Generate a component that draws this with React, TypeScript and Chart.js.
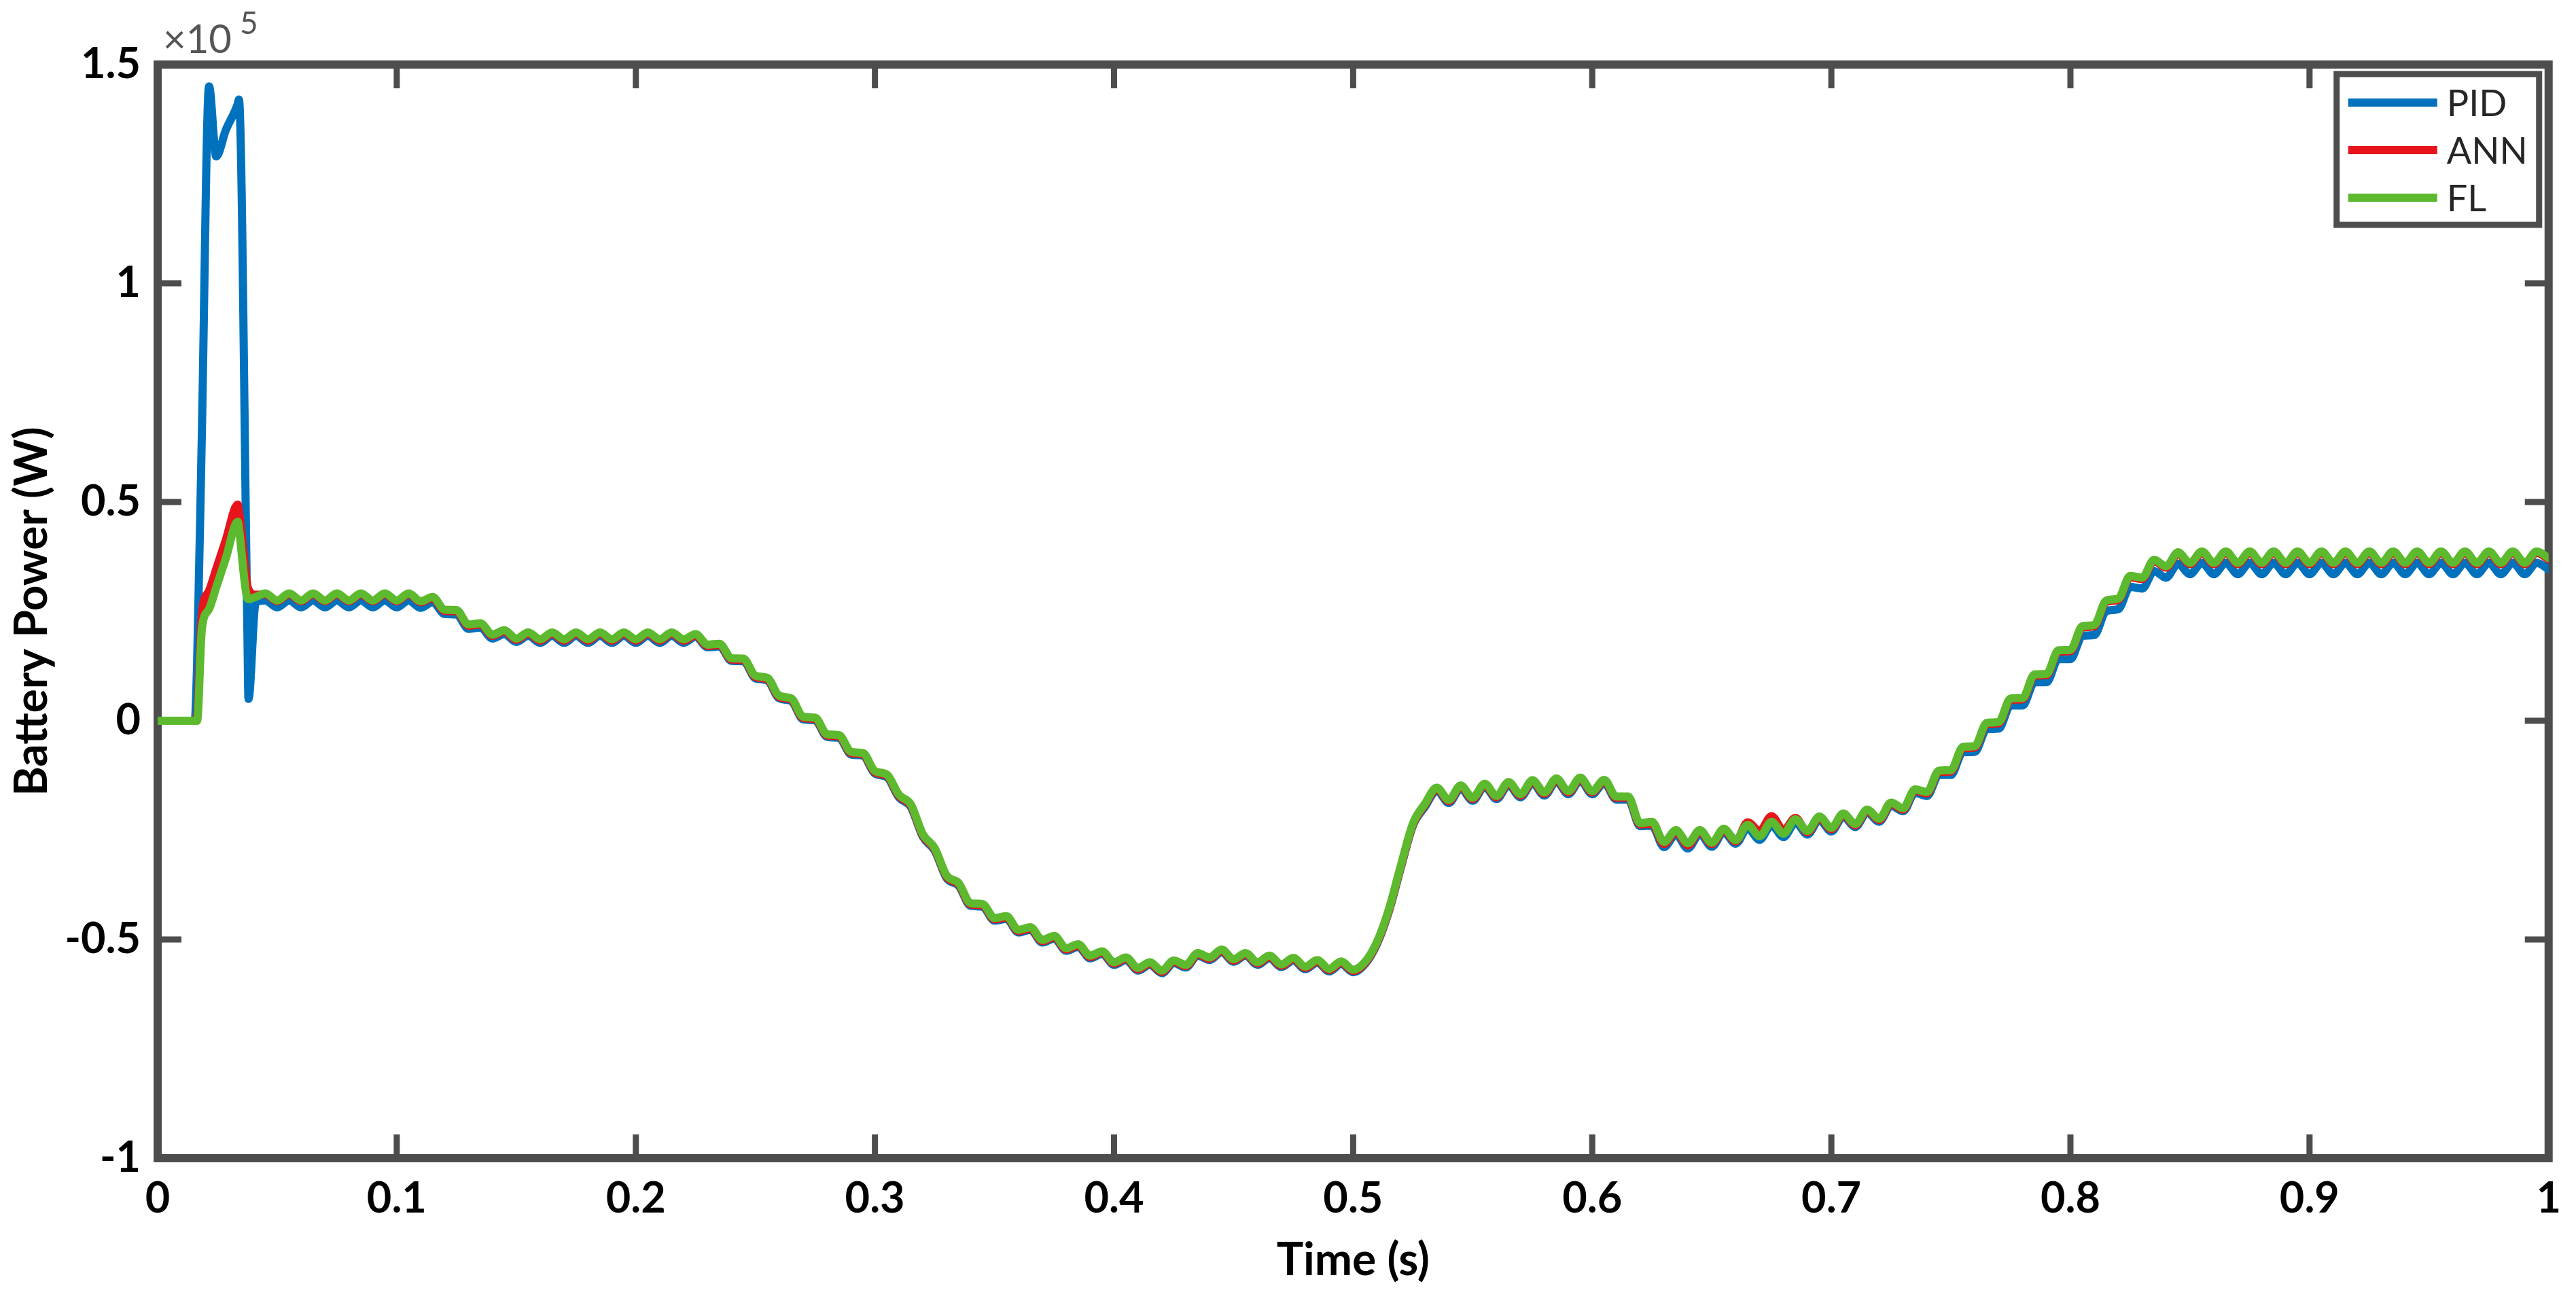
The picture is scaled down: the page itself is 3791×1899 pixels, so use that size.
import React, { useEffect, useRef } from "react";
import { Chart, registerables } from "chart.js";

Chart.register(...registerables);

// ---- data (values in units of 10^5 W) ----
const TIME = [
  0, 0.01, 0.0155, 0.0165, 0.0185, 0.0215, 0.0245, 0.0285, 0.0335, 0.034, 0.0375, 0.038, 0.041,
  0.045, 0.05, 0.055, 0.06, 0.065, 0.07, 0.075, 0.08, 0.085, 0.09,
  0.095, 0.1, 0.105, 0.11, 0.115, 0.12, 0.125, 0.13, 0.135, 0.14,
  0.145, 0.15, 0.155, 0.16, 0.165, 0.17, 0.175, 0.18, 0.185, 0.19,
  0.195, 0.2, 0.205, 0.21, 0.215, 0.22, 0.225, 0.23, 0.235, 0.24,
  0.245, 0.25, 0.255, 0.26, 0.265, 0.27, 0.275, 0.28, 0.285, 0.29,
  0.295, 0.3, 0.305, 0.31, 0.315, 0.32, 0.325, 0.33, 0.335, 0.34,
  0.345, 0.35, 0.355, 0.36, 0.365, 0.37, 0.375, 0.38, 0.385, 0.39,
  0.395, 0.4, 0.405, 0.41, 0.415, 0.42, 0.425, 0.43, 0.435, 0.44,
  0.445, 0.45, 0.455, 0.46, 0.465, 0.47, 0.475, 0.48, 0.485, 0.49,
  0.495, 0.5, 0.505, 0.51, 0.515, 0.52, 0.525, 0.53, 0.535, 0.54,
  0.545, 0.55, 0.555, 0.56, 0.565, 0.57, 0.575, 0.58, 0.585, 0.59,
  0.595, 0.6, 0.605, 0.61, 0.615, 0.62, 0.625, 0.63, 0.635, 0.64,
  0.645, 0.65, 0.655, 0.66, 0.665, 0.67, 0.675, 0.68, 0.685, 0.69,
  0.695, 0.7, 0.705, 0.71, 0.715, 0.72, 0.725, 0.73, 0.735, 0.74,
  0.745, 0.75, 0.755, 0.76, 0.765, 0.77, 0.775, 0.78, 0.785, 0.79,
  0.795, 0.8, 0.805, 0.81, 0.815, 0.82, 0.825, 0.83, 0.835, 0.84,
  0.845, 0.85, 0.855, 0.86, 0.865, 0.87, 0.875, 0.88, 0.885, 0.89,
  0.895, 0.9, 0.905, 0.91, 0.915, 0.92, 0.925, 0.93, 0.935, 0.94,
  0.945, 0.95, 0.955, 0.96, 0.965, 0.97, 0.975, 0.98, 0.985, 0.99,
  0.995, 1,
];

const PID = [
  0, 0, 0, 0.13, 0.66, 1.45, 1.29, 1.35, 1.41, 1.42, 0.22, 0.05, 0.27,
  0.275, 0.259, 0.275, 0.259, 0.275, 0.259, 0.275, 0.259, 0.275, 0.259,
  0.275, 0.259, 0.275, 0.258, 0.271, 0.244, 0.243, 0.21, 0.213, 0.188,
  0.198, 0.18, 0.194, 0.178, 0.194, 0.178, 0.194, 0.178, 0.194, 0.178,
  0.194, 0.178, 0.194, 0.178, 0.194, 0.178, 0.192, 0.168, 0.17, 0.137,
  0.136, 0.097, 0.092, 0.051, 0.045, 0.003, 0.001, -0.037, -0.039, -0.077,
  -0.08, -0.121, -0.129, -0.175, -0.197, -0.265, -0.297, -0.36, -0.377, -0.423,
  -0.425, -0.457, -0.453, -0.484, -0.478, -0.507, -0.498, -0.526, -0.517, -0.543,
  -0.533, -0.558, -0.547, -0.571, -0.558, -0.577, -0.554, -0.564, -0.537, -0.547,
  -0.529, -0.551, -0.537, -0.558, -0.543, -0.563, -0.548, -0.568, -0.553, -0.573,
  -0.556, -0.575, -0.556, -0.51, -0.435, -0.335, -0.24, -0.197, -0.16, -0.188,
  -0.155, -0.183, -0.151, -0.179, -0.147, -0.175, -0.143, -0.171, -0.139, -0.168,
  -0.137, -0.168, -0.142, -0.18, -0.18, -0.241, -0.24, -0.289, -0.26, -0.292,
  -0.259, -0.288, -0.255, -0.281, -0.246, -0.272, -0.239, -0.266, -0.233, -0.26,
  -0.227, -0.253, -0.219, -0.243, -0.21, -0.231, -0.194, -0.207, -0.165, -0.172,
  -0.124, -0.124, -0.072, -0.071, -0.019, -0.018, 0.035, 0.035, 0.088, 0.088,
  0.141, 0.141, 0.194, 0.196, 0.251, 0.255, 0.306, 0.302, 0.342, 0.327,
  0.359, 0.335, 0.361, 0.335, 0.361, 0.335, 0.361, 0.335, 0.361, 0.335,
  0.361, 0.335, 0.361, 0.335, 0.361, 0.335, 0.361, 0.335, 0.361, 0.335,
  0.361, 0.335, 0.361, 0.335, 0.361, 0.335, 0.361, 0.335, 0.361, 0.335,
  0.361, 0.346,
];

const ANN = [
  0, 0, 0, 0.01, 0.245, 0.297, 0.347, 0.413, 0.494, 0.48, 0.31, 0.3, 0.288,
  0.289, 0.273, 0.289, 0.273, 0.289, 0.273, 0.289, 0.273, 0.289, 0.273,
  0.289, 0.273, 0.289, 0.271, 0.28, 0.251, 0.25, 0.217, 0.22, 0.194,
  0.204, 0.185, 0.199, 0.183, 0.199, 0.183, 0.199, 0.183, 0.199, 0.183,
  0.199, 0.183, 0.199, 0.183, 0.199, 0.183, 0.195, 0.171, 0.173, 0.14,
  0.139, 0.1, 0.095, 0.054, 0.048, 0.006, 0.004, -0.034, -0.036, -0.074,
  -0.077, -0.118, -0.126, -0.172, -0.194, -0.262, -0.294, -0.357, -0.374, -0.42,
  -0.422, -0.454, -0.45, -0.481, -0.475, -0.504, -0.495, -0.523, -0.514, -0.54,
  -0.53, -0.555, -0.544, -0.568, -0.555, -0.574, -0.551, -0.561, -0.534, -0.544,
  -0.526, -0.548, -0.534, -0.555, -0.54, -0.56, -0.545, -0.565, -0.55, -0.57,
  -0.553, -0.572, -0.554, -0.508, -0.433, -0.333, -0.238, -0.193, -0.156, -0.184,
  -0.151, -0.179, -0.147, -0.175, -0.143, -0.171, -0.139, -0.167, -0.135, -0.164,
  -0.133, -0.164, -0.138, -0.176, -0.176, -0.237, -0.236, -0.282, -0.254, -0.285,
  -0.253, -0.282, -0.25, -0.276, -0.232, -0.252, -0.218, -0.25, -0.222, -0.255,
  -0.222, -0.248, -0.215, -0.239, -0.206, -0.227, -0.19, -0.203, -0.16, -0.166,
  -0.117, -0.116, -0.063, -0.061, -0.008, -0.006, 0.048, 0.049, 0.103, 0.104,
  0.158, 0.159, 0.213, 0.216, 0.272, 0.276, 0.328, 0.324, 0.365, 0.35,
  0.382, 0.358, 0.384, 0.358, 0.384, 0.358, 0.384, 0.358, 0.384, 0.358,
  0.384, 0.358, 0.384, 0.358, 0.384, 0.358, 0.384, 0.358, 0.384, 0.358,
  0.384, 0.358, 0.384, 0.358, 0.384, 0.358, 0.384, 0.358, 0.384, 0.358,
  0.384, 0.369,
];

const FL = [
  0, 0, 0, 0, 0.21, 0.255, 0.305, 0.371, 0.455, 0.44, 0.28, 0.278, 0.283,
  0.291, 0.275, 0.291, 0.275, 0.291, 0.275, 0.291, 0.275, 0.291, 0.275,
  0.291, 0.275, 0.291, 0.273, 0.283, 0.254, 0.253, 0.22, 0.223, 0.197,
  0.207, 0.188, 0.202, 0.186, 0.202, 0.186, 0.202, 0.186, 0.202, 0.186,
  0.202, 0.186, 0.202, 0.186, 0.202, 0.186, 0.198, 0.174, 0.176, 0.143,
  0.142, 0.103, 0.098, 0.057, 0.051, 0.009, 0.007, -0.031, -0.033, -0.071,
  -0.074, -0.115, -0.123, -0.169, -0.191, -0.259, -0.291, -0.354, -0.371, -0.417,
  -0.419, -0.451, -0.447, -0.478, -0.472, -0.501, -0.492, -0.52, -0.511, -0.537,
  -0.527, -0.552, -0.541, -0.565, -0.552, -0.571, -0.548, -0.558, -0.531, -0.541,
  -0.523, -0.545, -0.531, -0.552, -0.537, -0.557, -0.542, -0.562, -0.547, -0.567,
  -0.55, -0.569, -0.551, -0.505, -0.43, -0.33, -0.235, -0.19, -0.153, -0.181,
  -0.148, -0.176, -0.144, -0.172, -0.14, -0.168, -0.136, -0.164, -0.132, -0.161,
  -0.13, -0.161, -0.135, -0.173, -0.173, -0.234, -0.231, -0.277, -0.25, -0.28,
  -0.25, -0.279, -0.247, -0.273, -0.238, -0.264, -0.231, -0.258, -0.225, -0.252,
  -0.219, -0.245, -0.212, -0.236, -0.203, -0.224, -0.187, -0.2, -0.157, -0.163,
  -0.114, -0.113, -0.06, -0.058, -0.005, -0.003, 0.051, 0.052, 0.106, 0.107,
  0.161, 0.162, 0.216, 0.219, 0.275, 0.279, 0.331, 0.327, 0.368, 0.353,
  0.385, 0.361, 0.387, 0.361, 0.387, 0.361, 0.387, 0.361, 0.387, 0.361,
  0.387, 0.361, 0.387, 0.361, 0.387, 0.361, 0.387, 0.361, 0.387, 0.361,
  0.387, 0.361, 0.387, 0.361, 0.387, 0.361, 0.387, 0.361, 0.387, 0.361,
  0.387, 0.372,
];

const SERIES_LABELS = ["PID", "ANN", "FL"];
const SERIES_COLORS = ["#0072BD", "#E8141B", "#5DB92E"];

const X_TICKS = [0, 0.1, 0.2, 0.3, 0.4, 0.5, 0.6, 0.7, 0.8, 0.9, 1];
const X_TICK_LABELS = ["0", "0.1", "0.2", "0.3", "0.4", "0.5", "0.6", "0.7", "0.8", "0.9", "1"];
const Y_TICKS = [-1, -0.5, 0, 0.5, 1, 1.5];
const Y_TICK_LABELS = ["-1", "-0.5", "0", "0.5", "1", "1.5"];
const Y_EXPONENT = "5";
const X_TITLE = "Time (s)";
const Y_TITLE = "Battery Power (W)";

// ---- styling ----
const W = 3791;
const H = 1899;
const AXIS_COLOR = "#4d4d4d";
const FONT_FAMILY = "Lato, 'Open Sans', sans-serif";
const LEGEND_FAMILY = "Lato, 'Open Sans', sans-serif";
const TICK_LEN = 35;

const framePlugin = {
  id: "matlabFrame",
  beforeDatasetsDraw(chart: any) {
    const { ctx, chartArea, scales } = chart;
    const { left, right, top, bottom } = chartArea;
    ctx.save();
    ctx.strokeStyle = AXIS_COLOR;
    ctx.lineCap = "butt";
    ctx.lineWidth = 9;
    ctx.beginPath();
    X_TICKS.forEach((v) => {
      const px = scales.x.getPixelForValue(v);
      ctx.moveTo(px, bottom);
      ctx.lineTo(px, bottom - TICK_LEN);
      ctx.moveTo(px, top);
      ctx.lineTo(px, top + TICK_LEN);
    });
    Y_TICKS.forEach((v) => {
      const py = scales.y.getPixelForValue(v);
      ctx.moveTo(left, py);
      ctx.lineTo(left + TICK_LEN, py);
      ctx.moveTo(right, py);
      ctx.lineTo(right - TICK_LEN, py);
    });
    ctx.stroke();
    ctx.lineWidth = 12;
    ctx.lineJoin = "miter";
    ctx.strokeRect(left, top, right - left, bottom - top);
    ctx.restore();
  },
  afterDraw(chart: any) {
    const { ctx, chartArea } = chart;
    const { left, top, right } = chartArea;
    ctx.save();
    // exponent label
    ctx.fillStyle = "#555555";
    ctx.textBaseline = "alphabetic";
    ctx.textAlign = "left";
    ctx.font = `58px ${LEGEND_FAMILY}`;
    const base = "\u00D710";
    ctx.fillText(base, left + 8, top - 17);
    const bw = ctx.measureText(base).width;
    ctx.font = `46px ${LEGEND_FAMILY}`;
    ctx.fillText(Y_EXPONENT, left + 8 + bw + 12, top - 45);

    // legend
    const bx = right - 312;
    const by = top + 14;
    const bwid = 298;
    const bh = 222;
    ctx.fillStyle = "#ffffff";
    ctx.fillRect(bx, by, bwid, bh);
    ctx.strokeStyle = AXIS_COLOR;
    ctx.lineWidth = 9;
    ctx.strokeRect(bx, by, bwid, bh);
    chart.data.datasets.forEach((ds: any, i: number) => {
      const yy = by + 42 + i * 70;
      ctx.strokeStyle = ds.borderColor;
      ctx.lineWidth = 12;
      ctx.lineCap = "butt";
      ctx.beginPath();
      ctx.moveTo(bx + 17, yy);
      ctx.lineTo(bx + 148, yy);
      ctx.stroke();
      ctx.fillStyle = "#262626";
      ctx.font = `54px ${LEGEND_FAMILY}`;
      ctx.textBaseline = "middle";
      ctx.fillText(ds.label, bx + 162, yy + 3);
    });
    ctx.restore();
  },
};

function makeData(values: number[]) {
  return TIME.map((t, i) => ({ x: t, y: values[i] }));
}

export default function App() {
  const ref = useRef<HTMLCanvasElement | null>(null);
  useEffect(() => {
    document.body.style.margin = "0";
    const series = [PID, ANN, FL];
    const chart = new Chart(ref.current as HTMLCanvasElement, {
      type: "line",
      data: {
        datasets: series.map((vals, i) => ({
          label: SERIES_LABELS[i],
          data: makeData(vals),
          borderColor: SERIES_COLORS[i],
          backgroundColor: SERIES_COLORS[i],
          borderWidth: 12,
          pointRadius: 0,
          cubicInterpolationMode: "monotone",
          borderCapStyle: "round",
          borderJoinStyle: "round",
          fill: false,
          order: 3 - i,
        })),
      },
      options: {
        animation: false,
        responsive: true,
        maintainAspectRatio: false,
        layout: { padding: { top: 95, right: 29, left: 0, bottom: 0 } },
        plugins: { legend: { display: false }, tooltip: { enabled: false } },
        scales: {
          x: {
            type: "linear",
            min: 0,
            max: 1,
            grid: { display: true, drawOnChartArea: false, drawTicks: false, color: "rgba(0,0,0,0)" },
            border: { display: false },
            afterBuildTicks: (s: any) => {
              s.ticks = X_TICKS.map((v) => ({ value: v }));
            },
            afterFit: (s: any) => {
              s.height = 194;
            },
            ticks: {
              autoSkip: false,
              maxRotation: 0,
              padding: 22,
              color: "#000000",
              font: { family: FONT_FAMILY, size: 63, weight: "bold" },
              callback: (_v: any, i: number) => X_TICK_LABELS[i],
            },
            title: {
              display: true,
              text: X_TITLE,
              color: "#000000",
              font: { family: FONT_FAMILY, size: 66, weight: "bold" },
              padding: { top: 0, bottom: 4 },
            },
          },
          y: {
            type: "linear",
            min: -1,
            max: 1.5,
            grid: { display: true, drawOnChartArea: false, drawTicks: false, color: "rgba(0,0,0,0)" },
            border: { display: false },
            afterBuildTicks: (s: any) => {
              s.ticks = Y_TICKS.map((v) => ({ value: v }));
            },
            afterFit: (s: any) => {
              s.width = 232;
            },
            ticks: {
              autoSkip: false,
              padding: 25,
              color: "#000000",
              font: { family: FONT_FAMILY, size: 63, weight: "bold" },
              callback: (_v: any, i: number) => Y_TICK_LABELS[i],
            },
            title: {
              display: true,
              text: Y_TITLE,
              color: "#000000",
              font: { family: FONT_FAMILY, size: 66, weight: "bold" },
              padding: { top: 8, bottom: 0 },
            },
          },
        },
      },
      plugins: [framePlugin],
    } as any);
    return () => chart.destroy();
  }, []);
  return (
    <div style={{ position: "absolute", left: 0, top: 0, width: W, height: H, background: "#ffffff" }}>
      <canvas ref={ref} />
    </div>
  );
}
